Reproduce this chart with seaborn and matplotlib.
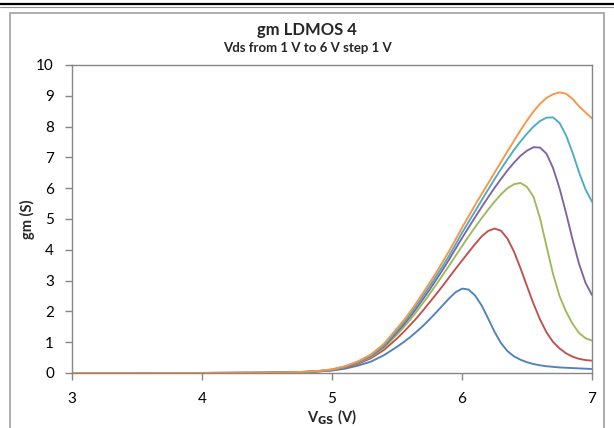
import numpy as np
import pandas as pd
import matplotlib
matplotlib.use('Agg')
import matplotlib.pyplot as plt
import seaborn as sns
from matplotlib.patches import Rectangle
from matplotlib.lines import Line2D

# V_GS grid (coarse below 5.5 V, 0.05 V steps above)
vgs = [3.0, 3.5, 4.0, 4.5, 4.6, 4.7, 4.8, 4.9, 5.0, 5.1, 5.2, 5.3, 5.4,
       5.5, 5.55, 5.6, 5.65, 5.7, 5.75, 5.8, 5.85, 5.9, 5.95,
       6.0, 6.05, 6.1, 6.15, 6.2, 6.25, 6.3, 6.35, 6.4, 6.45,
       6.5, 6.55, 6.6, 6.65, 6.7, 6.75, 6.8, 6.85, 6.9, 6.95, 7.0]

gm_vds1 = [0, 0, 0.002, 0.008, 0.012, 0.02, 0.03, 0.05, 0.08, 0.14, 0.24, 0.37, 0.58,
           0.85, 1.0, 1.16, 1.34, 1.53, 1.74, 1.96, 2.19, 2.42, 2.62,
           2.74, 2.71, 2.52, 2.2, 1.78, 1.34, 0.97, 0.71, 0.54, 0.43,
           0.35, 0.29, 0.25, 0.22, 0.2, 0.18, 0.17, 0.16, 0.15, 0.14, 0.13]
gm_vds2 = [0, 0, 0.002, 0.01, 0.014, 0.022, 0.035, 0.055, 0.09, 0.17, 0.3, 0.48, 0.75,
           1.12, 1.33, 1.55, 1.78, 2.03, 2.29, 2.55, 2.82, 3.1, 3.38,
           3.65, 3.92, 4.18, 4.43, 4.61, 4.69, 4.62, 4.36, 3.94, 3.4,
           2.82, 2.25, 1.74, 1.32, 1.01, 0.8, 0.64, 0.53, 0.46, 0.42, 0.4]
gm_vds3 = [0, 0, 0.002, 0.01, 0.015, 0.024, 0.038, 0.06, 0.1, 0.19, 0.33, 0.52, 0.82,
           1.25, 1.48, 1.72, 1.99, 2.27, 2.56, 2.86, 3.17, 3.48, 3.8,
           4.12, 4.43, 4.73, 5.02, 5.3, 5.56, 5.8, 6.0, 6.13, 6.17,
           6.04, 5.72, 5.03, 4.12, 3.22, 2.5, 2.0, 1.6, 1.3, 1.13, 1.05]
gm_vds4 = [0, 0, 0.002, 0.01, 0.015, 0.025, 0.04, 0.063, 0.11, 0.2, 0.35, 0.55, 0.86,
           1.32, 1.56, 1.82, 2.1, 2.4, 2.7, 3.02, 3.34, 3.68, 4.03,
           4.38, 4.72, 5.05, 5.38, 5.7, 6.01, 6.3, 6.58, 6.83, 7.05,
           7.22, 7.33, 7.32, 7.12, 6.66, 6.0, 5.2, 4.34, 3.55, 2.93, 2.53]
gm_vds5 = [0, 0, 0.002, 0.01, 0.015, 0.025, 0.04, 0.065, 0.11, 0.21, 0.36, 0.57, 0.9,
           1.38, 1.63, 1.9, 2.19, 2.5, 2.81, 3.13, 3.46, 3.8, 4.17,
           4.55, 4.9, 5.25, 5.6, 5.95, 6.29, 6.62, 6.94, 7.24, 7.52,
           7.77, 8.0, 8.18, 8.29, 8.3, 8.12, 7.72, 7.16, 6.52, 5.96, 5.56]
gm_vds6 = [0, 0, 0.002, 0.01, 0.015, 0.025, 0.04, 0.07, 0.12, 0.22, 0.38, 0.6, 0.95,
           1.45, 1.7, 1.98, 2.28, 2.6, 2.92, 3.25, 3.6, 3.95, 4.33,
           4.72, 5.08, 5.45, 5.8, 6.15, 6.5, 6.85, 7.2, 7.54, 7.88,
           8.2, 8.49, 8.74, 8.93, 9.05, 9.11, 9.07, 8.9, 8.66, 8.46, 8.27]

vds_names = ['1 V', '2 V', '3 V', '4 V', '5 V', '6 V']
colors = ['#4F81BD', '#C0504D', '#9BBB59', '#8064A2', '#4BACC6', '#F79646']

series = [gm_vds1, gm_vds2, gm_vds3, gm_vds4, gm_vds5, gm_vds6]
df = pd.concat([pd.DataFrame({'vgs': vgs, 'gm': s, 'vds': n})
                for s, n in zip(series, vds_names)], ignore_index=True)

sns.set_style('white')
plt.rcParams['font.family'] = ['Lato', 'DejaVu Sans']

fig = plt.figure(figsize=(6.14, 4.28), dpi=100)
ax = fig.add_axes([72/614, 1-373/428, 520/614, 308/428])

sns.lineplot(data=df, x='vgs', y='gm', hue='vds', palette=colors,
             linewidth=1.35, legend=False, ax=ax, sort=False)

ax.set_xlim(3, 7)
ax.set_ylim(0, 10)
ax.set_xticks([3, 4, 5, 6, 7])
ax.set_yticks(range(0, 11))
ax.tick_params(axis='both', direction='out', length=5, width=1, color='#868686',
               labelsize=11, labelcolor='black', bottom=True, left=True)
ax.tick_params(axis='x', pad=9)
ax.tick_params(axis='y', pad=8)
for sp in ax.spines.values():
    sp.set_color('#868686')
    sp.set_linewidth(1)

ax.set_xlabel(r'V$_{\mathbf{GS}}$ (V)', fontsize=10.5, fontweight='bold', labelpad=1)
ax.set_ylabel('gm (S)', fontsize=10.5, fontweight='bold', labelpad=1)

fig.text(0.5, 1-30/428, 'gm LDMOS 4', ha='center', va='center',
         fontsize=12, fontweight='bold')
fig.text(0.5, 1-48/428, 'Vds from 1 V to 6 V step 1 V', ha='center', va='center',
         fontsize=9.5, fontweight='bold')

# chart area border and top rule
fig.patches.append(Rectangle((10/614, -0.01), 594/614, 1-13/428+0.01,
                             transform=fig.transFigure, fill=False,
                             edgecolor='#A0A0A0', linewidth=1.2))
fig.lines.append(Line2D([0, 1], [1-4/428, 1-4/428], transform=fig.transFigure,
                        color='black', linewidth=1.6))
fig.lines.append(Line2D([0, 1], [1-6.5/428, 1-6.5/428], transform=fig.transFigure,
                        color='#909090', linewidth=0.8))

fig.savefig('out.png', dpi=100)
